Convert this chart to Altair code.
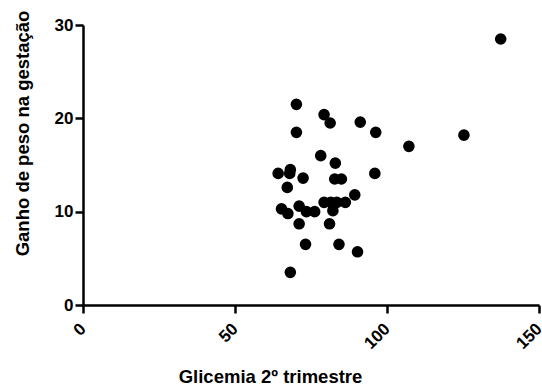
import altair as alt
import pandas as pd

glicemia = [137.4, 70.2, 79.3, 81.3, 91.2, 70.2, 96.3, 125.3, 107.2, 78.2, 83.0, 64.2,
            68.2, 68.0, 72.4, 82.8, 85.0, 96.0, 67.2, 89.4, 79.3, 81.5, 83.5, 86.3,
            65.3, 67.4, 71.1, 73.5, 76.2, 82.2, 71.1, 81.1, 73.2, 84.2, 90.3, 68.2]
ganho = [28.5, 21.5, 20.4, 19.5, 19.6, 18.5, 18.5, 18.2, 17.0, 16.0, 15.2, 14.1,
         14.5, 14.1, 13.6, 13.5, 13.5, 14.1, 12.6, 11.8, 11.0, 11.0, 11.0, 11.0,
         10.3, 9.8, 10.6, 10.0, 10.0, 10.1, 8.7, 8.7, 6.5, 6.5, 5.7, 3.5]

df = pd.DataFrame({"x": glicemia, "y": ganho})

FONT = "Liberation Sans"

chart = alt.Chart(df).mark_circle(size=135, color="black", opacity=1).encode(
    x=alt.X("x:Q", title="Glicemia 2º trimestre",
            scale=alt.Scale(domain=[0, 150], nice=False, zero=True),
            axis=alt.Axis(values=[0, 50, 100, 150], labelAngle=-45, labelAlign="right",
                          labelBaseline="middle", labelPadding=13, titlePadding=16,
                          titleX=187)),
    y=alt.Y("y:Q", title="Ganho de peso na gestação",
            scale=alt.Scale(domain=[0, 30], nice=False),
            axis=alt.Axis(values=[0, 10, 20, 30], titlePadding=22, labelPadding=2,
                          titleY=108)),
).properties(
    width=456, height=280,
    autosize=alt.AutoSizeParams(type="none"),
    padding={"left": 83, "top": 25, "right": 3, "bottom": 81},
).configure_axis(
    grid=False,
    domainColor="black", domainWidth=2.5,
    tickColor="black", tickWidth=2.5, tickSize=8,
    labelFont=FONT, labelFontSize=17, labelFontWeight="bold", labelColor="black",
    titleFont=FONT, titleFontSize=18.5, titleFontWeight="bold", titleColor="black",
    labelFlush=False, labelOverlap=False,
).configure_view(stroke=None)

chart.save("out.html", embed_options={"renderer": "svg", "actions": False})
